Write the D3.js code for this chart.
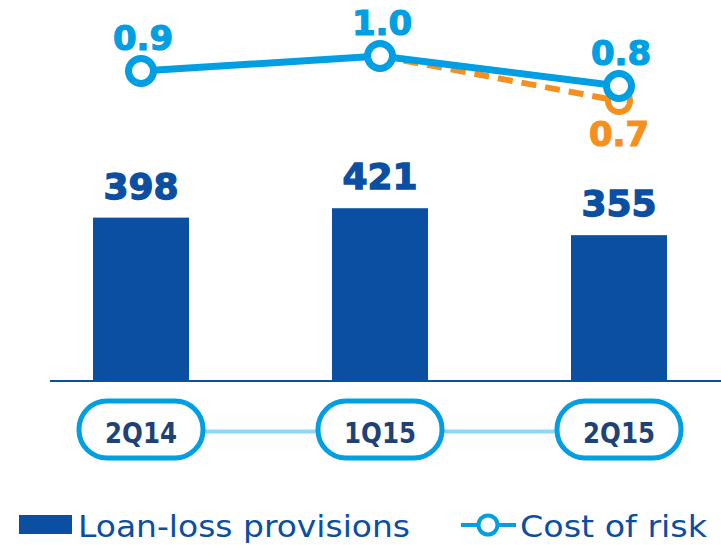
<!DOCTYPE html>
<html>
<head>
<meta charset="utf-8">
<script src="https://cdn.jsdelivr.net/npm/d3@7"></script>
<style>
  body { margin: 0; background: #fff; }
  svg { display: block; }
</style>
</head>
<body>
<div id="chart"></div>
<script>
var categories = ["2Q14", "1Q15", "2Q15"]
var provisions = [398, 421, 355]
var costOfRisk = [0.9, 1.0, 0.8]
var costOfRiskAlt = [null, 1.0, 0.7]   // orange dashed series

var width = 721, height = 545
var barColor = "#0b4fa2",
    lineColor = "#009fe3",
    orange = "#f5901e",
    pillText = "#1f4275"

var svg = d3.select("#chart").append("svg")
    .attr("width", width)
    .attr("height", height)

var xScale = d3.scalePoint().domain(categories).range([141, 619])
var yBar = d3.scaleLinear().domain([0, 500]).range([380, 176])
var yLine = d3.scaleLinear().domain([0.7, 1.0]).range([101, 56])
var barWidth = 96

// bars
svg.selectAll("rect.bar")
    .data(categories)
    .enter().append("rect")
    .attr("class", "bar")
    .attr("x", d => xScale(d) - barWidth / 2)
    .attr("width", barWidth)
    .attr("y", (d, i) => yBar(provisions[i]))
    .attr("height", (d, i) => yBar(0) - yBar(provisions[i]))
    .attr("fill", barColor)

// baseline
svg.append("line")
    .attr("x1", 50).attr("x2", width)
    .attr("y1", yBar(0) + 1).attr("y2", yBar(0) + 1)
    .attr("stroke", barColor)
    .attr("stroke-width", 2)

// bar labels
svg.selectAll("text.barlabel")
    .data(categories)
    .enter().append("text")
    .attr("class", "barlabel")
    .attr("x", d => xScale(d))
    .attr("y", (d, i) => yBar(provisions[i]) - 19)
    .attr("text-anchor", "middle")
    .attr("font-family", "DejaVu Sans")
    .attr("font-weight", "bold")
    .attr("font-size", "36px")
    .attr("fill", barColor)
    .attr("stroke", barColor)
    .attr("stroke-width", 1.3)
    .text((d, i) => provisions[i])

// orange dashed line (drawn under blue)
var altPts = categories.map((c, i) => [c, costOfRiskAlt[i]]).filter(p => p[1] != null)
var line = d3.line()
    .x(p => xScale(p[0]))
    .y(p => yLine(p[1]))

svg.append("path")
    .datum(altPts)
    .attr("d", line)
    .attr("fill", "none")
    .attr("stroke", orange)
    .attr("stroke-width", 6)
    .attr("stroke-dasharray", "15,9")

var lastAlt = altPts[altPts.length - 1]
svg.append("circle")
    .attr("cx", xScale(lastAlt[0]))
    .attr("cy", yLine(lastAlt[1]))
    .attr("r", 11)
    .attr("fill", "#fff")
    .attr("stroke", orange)
    .attr("stroke-width", 6)

svg.append("text")
    .attr("x", xScale(lastAlt[0]))
    .attr("y", 146)
    .attr("text-anchor", "middle")
    .attr("font-family", "DejaVu Sans")
    .attr("font-weight", "bold")
    .attr("font-size", "34px")
    .attr("fill", orange)
    .attr("stroke", orange)
    .attr("stroke-width", 1.2)
    .text(lastAlt[1].toFixed(1))

// blue cost of risk line
var pts = categories.map((c, i) => [c, costOfRisk[i]])
svg.append("path")
    .datum(pts)
    .attr("d", line)
    .attr("fill", "none")
    .attr("stroke", lineColor)
    .attr("stroke-width", 7)

svg.selectAll("circle.pt")
    .data(pts)
    .enter().append("circle")
    .attr("class", "pt")
    .attr("cx", p => xScale(p[0]))
    .attr("cy", p => yLine(p[1]))
    .attr("r", 12.5)
    .attr("fill", "#fff")
    .attr("stroke", lineColor)
    .attr("stroke-width", 7)

svg.selectAll("text.linelabel")
    .data(pts)
    .enter().append("text")
    .attr("class", "linelabel")
    .attr("x", p => xScale(p[0]) + 2)
    .attr("y", p => yLine(p[1]) - 21)
    .attr("text-anchor", "middle")
    .attr("font-family", "DejaVu Sans")
    .attr("font-weight", "bold")
    .attr("font-size", "34px")
    .attr("fill", lineColor)
    .attr("stroke", lineColor)
    .attr("stroke-width", 1.2)
    .text(p => p[1].toFixed(1))

// category pills
var pillW = 124, pillH = 57, pillY = 401
svg.append("line")
    .attr("x1", xScale(categories[0])).attr("x2", xScale(categories[categories.length - 1]))
    .attr("y1", pillY + pillH / 2 + 2).attr("y2", pillY + pillH / 2 + 2)
    .attr("stroke", "#8fd6f6")
    .attr("stroke-width", 4)

svg.selectAll("rect.pill")
    .data(categories)
    .enter().append("rect")
    .attr("class", "pill")
    .attr("x", d => xScale(d) - pillW / 2)
    .attr("y", pillY)
    .attr("width", pillW)
    .attr("height", pillH)
    .attr("rx", 28)
    .attr("fill", "#fff")
    .attr("stroke", lineColor)
    .attr("stroke-width", 5)

svg.selectAll("text.pilltext")
    .data(categories)
    .enter().append("text")
    .attr("class", "pilltext")
    .attr("x", d => xScale(d))
    .attr("y", 443)
    .attr("text-anchor", "middle")
    .attr("font-family", "DejaVu Sans")
    .attr("font-weight", "bold")
    .attr("font-size", "28px")
    .attr("textLength", 72)
    .attr("lengthAdjust", "spacingAndGlyphs")
    .attr("fill", pillText)
    .text(d => d)

// legend
svg.append("rect")
    .attr("x", 19).attr("y", 515)
    .attr("width", 53).attr("height", 19)
    .attr("fill", barColor)
svg.append("text")
    .attr("x", 78).attr("y", 537)
    .attr("font-family", "DejaVu Sans")
    .attr("font-size", "31px")
    .attr("textLength", 332)
    .attr("lengthAdjust", "spacingAndGlyphs")
    .attr("fill", barColor)
    .text("Loan-loss provisions")

svg.append("line")
    .attr("x1", 461).attr("x2", 516)
    .attr("y1", 525).attr("y2", 525)
    .attr("stroke", lineColor)
    .attr("stroke-width", 4)
svg.append("circle")
    .attr("cx", 488).attr("cy", 525)
    .attr("r", 9.5)
    .attr("fill", "#fff")
    .attr("stroke", lineColor)
    .attr("stroke-width", 4)
svg.append("text")
    .attr("x", 520).attr("y", 537)
    .attr("font-family", "DejaVu Sans")
    .attr("font-size", "31px")
    .attr("textLength", 187)
    .attr("lengthAdjust", "spacingAndGlyphs")
    .attr("fill", barColor)
    .text("Cost of risk")
</script>
</body>
</html>
